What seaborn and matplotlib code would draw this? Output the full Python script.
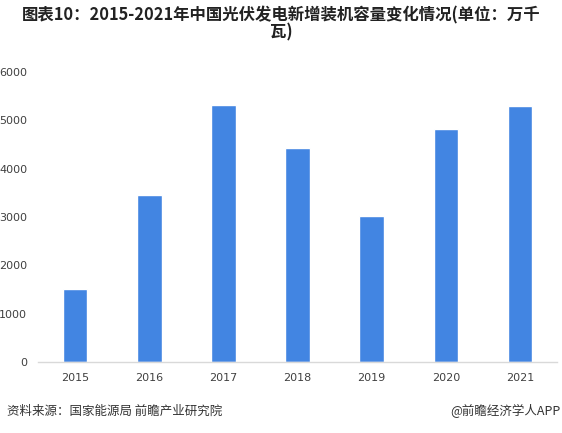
import matplotlib
matplotlib.use("Agg")
import matplotlib.pyplot as plt
import seaborn as sns
import pandas as pd

years = ["2015", "2016", "2017", "2018", "2019", "2020", "2021"]
values = [1513, 3454, 5306, 4426, 3011, 4820, 5297]
yticks = [0, 1000, 2000, 3000, 4000, 5000, 6000]

title = "图表10：2015-2021年中国光伏发电新增装机容量变化情况(单位：万千\n瓦)"
source = "资料来源：国家能源局 前瞻产业研究院"
brand = "@前瞻经济学人APP"

sns.set_theme(style="white")
plt.rcParams['font.family'] = ['Noto Sans CJK SC', 'DejaVu Sans']

df = pd.DataFrame({"year": years, "value": values})

fig = plt.figure(figsize=(5.62, 4.33), dpi=100)
ax = fig.add_axes([0.068, 0.164, 0.923, 0.670])
sns.barplot(data=df, x="year", y="value", color="#4285E2", width=0.33,
            saturation=1, ax=ax)

ax.set_ylim(0, 6000)
ax.set_yticks(yticks)
ax.set_yticklabels([str(t) for t in yticks], fontsize=8, color="#404040",
                   family=['DejaVu Sans'])
ax.set_xticks(range(len(years)))
ax.set_xticklabels(years, fontsize=8, color="#404040", family=['DejaVu Sans'])
ax.tick_params(axis="x", length=0, pad=8)
ax.tick_params(axis="y", length=0, pad=8)
ax.set_xlabel("")
ax.set_ylabel("")
for s in ["top", "right", "left"]:
    ax.spines[s].set_visible(False)
ax.spines["bottom"].set_color("#d9d9d9")
ax.spines["bottom"].set_linewidth(1)
ax.grid(False)

fig.text(0.5, 0.985, title, ha="center", va="top", fontsize=11.8,
         fontweight="bold", color="#222222", linespacing=0.95)
fig.text(0.012, 0.05, source, ha="left", va="center", fontsize=9, color="#333333")
fig.text(0.998, 0.05, brand, ha="right", va="center", fontsize=9, color="#333333")

fig.savefig("out.png", dpi=100)
